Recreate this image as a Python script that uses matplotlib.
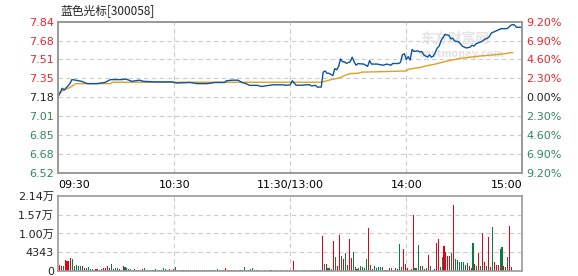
import matplotlib
matplotlib.use('Agg')
import matplotlib.pyplot as plt
import numpy as np

plt.rcParams['font.family'] = ['DejaVu Sans', 'Noto Sans CJK SC']

title = '蓝色光标[300058]'
prev_close = 7.18

# minute since 09:30 (lunch break removed) -> price
price_min = [0, 2, 3, 5, 6, 7, 9, 12, 15, 20, 24, 27, 33, 35, 38, 42, 44, 50, 59, 61,
             68, 72, 77, 81, 86, 87, 90, 93, 95, 97, 99, 103, 105, 107, 111, 116, 118, 120, 121, 123,
             126, 128, 130, 131, 133, 134, 136, 137, 138, 139, 140, 142, 143, 144, 145, 146, 147, 148, 149, 151,
             152, 153, 154, 155, 158, 160, 161, 162, 165, 168, 170, 172, 173, 176, 177, 178, 179, 180, 181, 182,
             183, 184, 186, 187, 188, 189, 190, 191, 192, 193, 194, 195, 196, 197, 198, 200, 202, 203, 204, 205,
             207, 208, 209, 211, 213, 214, 215, 216, 218, 219, 221, 222, 223, 224, 226, 228, 229, 232, 233, 234,
             235, 236, 237, 240]
price = [7.19, 7.26, 7.245, 7.28, 7.30, 7.335, 7.33, 7.32, 7.30, 7.30, 7.31, 7.335, 7.335, 7.34, 7.32, 7.33, 7.32, 7.315, 7.315, 7.305,
         7.31, 7.30, 7.30, 7.31, 7.31, 7.325, 7.33, 7.33, 7.31, 7.30, 7.285, 7.285, 7.275, 7.28, 7.29, 7.29, 7.285, 7.29, 7.325, 7.286,
         7.286, 7.29, 7.29, 7.28, 7.285, 7.27, 7.27, 7.40, 7.41, 7.39, 7.39, 7.37, 7.43, 7.42, 7.45, 7.515, 7.49, 7.49, 7.476, 7.49,
         7.53, 7.49, 7.46, 7.474, 7.47, 7.45, 7.50, 7.47, 7.47, 7.46, 7.47, 7.46, 7.475, 7.475, 7.485, 7.55, 7.56, 7.51, 7.535, 7.505,
         7.597, 7.58, 7.585, 7.575, 7.58, 7.55, 7.54, 7.53, 7.55, 7.53, 7.54, 7.57, 7.61, 7.626, 7.675, 7.727, 7.72, 7.69, 7.695, 7.67,
         7.665, 7.646, 7.626, 7.61, 7.617, 7.634, 7.626, 7.646, 7.66, 7.665, 7.69, 7.695, 7.71, 7.74, 7.755, 7.77, 7.778, 7.778, 7.79, 7.807,
         7.813, 7.81, 7.79, 7.79]

avg_min = [0, 2, 6, 9, 27, 28, 136, 140, 146, 148, 151, 155, 157, 170, 180, 181, 184, 187, 190, 195,
           201, 205, 208, 211, 218, 225, 231, 234, 235]
avg_price = [7.20, 7.237, 7.266, 7.30, 7.30, 7.312, 7.312, 7.33, 7.353, 7.37, 7.387, 7.39, 7.40, 7.405, 7.41, 7.424, 7.433, 7.44, 7.453, 7.47,
             7.496, 7.51, 7.52, 7.525, 7.54, 7.55, 7.56, 7.57, 7.57]

# volume per minute (lots)
volume = [1710, 1510, 1510, 3220, 2935, 2935, 3790, 3505, 1510, 1710, 1510, 1425, 1425,
          770, 940, 1140, 655, 655, 370, 570, 570, 370, 570, 770, 940, 1425, 855, 1995, 570, 770, 940,
          570, 370, 1425, 1140, 770, 570, 570, 370, 570, 370, 370, 370, 570, 940, 370, 370, 370, 370, 370, 570,
          370, 370, 370, 855, 570, 370, 655, 370, 570, 1225,
          285, 285, 285, 285, 285, 370, 285, 285, 285, 285, 285, 285, 285, 285, 370, 285, 285, 285, 285, 285,
          285, 485, 285, 285, 285, 770, 285, 285, 370, 285, 285, 285, 285, 285, 285, 1055, 370, 285, 485, 940,
          285, 285, 285, 0, 0, 200, 0, 0, 200, 200, 0, 200, 0, 0, 200, 0, 200,
          200, 200, 0, 2850, 370, 200, 0, 0, 200, 200, 200, 0, 370, 200, 200, 200, 200, 200, 9975, 1910,
          1910, 940, 770, 570, 8550, 3990, 1340, 10175, 4190, 3335, 5045, 1710, 9035, 3620, 5415, 1055, 485, 770, 1340, 1140,
          855, 3335, 12170, 1625, 655, 1340, 855, 1055, 1055, 1055, 200, 285, 200, 770, 770, 200, 770, 570, 7610, 1055,
          6185, 1910, 770, 370, 570, 15875, 770, 770, 7325, 1510, 1340, 570, 770, 4475, 1340, 200, 485, 7895, 9035, 1055,
          3905, 7040, 5330, 4190, 4190, 5045, 18725, 3335, 3050, 2480, 2480, 2480, 1625, 2195, 1340, 770, 7895, 1910, 1340, 5045,
          1340, 10745, 2480, 1340, 9605, 1055, 12455, 2480, 1625, 1625, 6185, 6755, 1340, 1055, 3905, 12740, 1055]
# r = up minute, g = down minute
vol_dir = ('rrgrrrrgggggr'                       # 0-12
           'ggggggrrggrrrrgggg'                  # 13-30
           'grrggrgrggrgrggggggggggggggrrg'      # 31-60
           'ggggggggggggggggggggggggg' 'rggrggggggggggg' 'rrgggrggrggrggggg'  # 61-117
           'gggrggggrg' 'ggggrgggrg' 'rgggrgrrgr' 'ggrrggrggg'    # 118-157
           'ggrgrggggg' 'grrrgrgrgg' 'rrrgrrgggr' 'gggrggrrrg'    # 158-197
           'grrrrgrggg' 'ggggrrgrgr' 'grrgrrgrrr' 'ggrrgrr')      # 198-234

time_ticks = [0, 60, 120, 180, 240]
time_labels = ['09:30', '10:30', '11:30/13:00', '14:00', '15:00']
price_ticks = [6.52, 6.68, 6.85, 7.01, 7.18, 7.35, 7.51, 7.68, 7.84]
pct_labels = ['9.20%', '6.90%', '4.60%', '2.30%', '0.00%', '2.30%', '4.60%', '6.90%', '9.20%']
vol_labels = ['0', '4343', '1.00万', '1.57万', '2.14万']

RED = '#e8262a'
GREEN = '#2e8b57'
BAR_RED = '#e60012'
BAR_GREEN = '#0a7d3c'
FRAME = '#999999'
GRID = dict(color='#cccccc', linestyle=(0, (4, 3)), linewidth=0.8)

fig = plt.figure(figsize=(5.78, 2.76), dpi=100)
ax = fig.add_axes([0.1009, 0.372, 0.8027, 0.55])
axv = fig.add_axes([0.1009, 0.018, 0.8027, 0.272])

# price panel
lo, hi = price_ticks[0], price_ticks[-1]
ax.set_xlim(0, 240)
ax.set_ylim(lo, hi)
tick_pos = np.linspace(lo, hi, len(price_ticks))
for y in tick_pos[1:-1]:
    ax.axhline(y, **GRID, zorder=0)
for x in time_ticks[1:-1]:
    ax.axvline(x, **GRID, zorder=0)
ax.plot(avg_min, avg_price, color='#e0a020', lw=1.0, zorder=2)
ax.plot(price_min, price, color='#0d52a0', lw=1.0, zorder=3)

ax.set_yticks(tick_pos)
ax.set_yticklabels(['%.2f' % v for v in price_ticks], fontsize=8)
ax.set_xticks(time_ticks)
ax.set_xticklabels(time_labels, fontsize=8)
ax.tick_params(length=0, pad=3)
ax.tick_params(axis='x', pad=5)
xl = ax.get_xticklabels()
xl[0].set_ha('left')
xl[-1].set_ha('right')

ax2 = ax.twinx()
ax2.set_ylim(lo, hi)
ax2.set_yticks(tick_pos)
ax2.set_yticklabels(pct_labels, fontsize=8)
ax2.tick_params(length=0, pad=3)

for lbls in (ax.get_yticklabels(), ax2.get_yticklabels()):
    for v, t in zip(price_ticks, lbls):
        t.set_color(RED if v > prev_close else (GREEN if v < prev_close else '#222222'))

for a in (ax, ax2, axv):
    for s in a.spines.values():
        s.set_color(FRAME)
        s.set_linewidth(1.2)

# watermark
ax.text(0.93, 0.93, '东方财富网', transform=ax.transAxes, ha='right', va='top',
        fontsize=10, color='#e4e4e4', fontweight='bold', zorder=1, family=['Noto Sans CJK SC'])
ax.text(0.96, 0.82, 'eastmoney.com', transform=ax.transAxes, ha='right', va='top',
        fontsize=7, color='#e4e4e4', fontweight='bold', zorder=1)

# volume panel
vmax = 21400
axv.set_xlim(0, 240)
axv.set_ylim(0, vmax)
vtick = np.linspace(0, vmax, 5)
for y in vtick[1:-1]:
    axv.axhline(y, **GRID, zorder=0)
for x in time_ticks[1:-1]:
    axv.axvline(x, **GRID, zorder=0)
mins = np.arange(len(volume)) + 0.5
cols = [BAR_RED if c == 'r' else BAR_GREEN for c in vol_dir[:len(volume)]]
axv.bar(mins, volume, width=0.55, color=cols, linewidth=0, zorder=2, antialiased=False)
axv.set_xticks([])
axv.set_yticks(vtick)
axv.set_yticklabels(vol_labels, fontsize=8, color='#222222')
axv.tick_params(length=0, pad=3)

fig.text(0.104, 0.962, title, fontsize=8.5, ha='left', va='center', color='#222222',
         family=['Noto Sans CJK SC'])

fig.savefig('out.png', dpi=100)
